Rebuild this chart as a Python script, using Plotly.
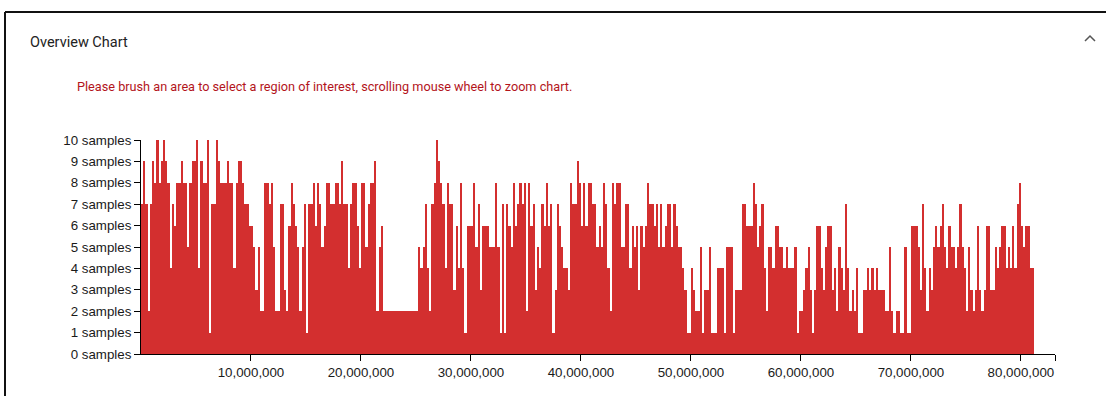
import plotly.graph_objects as go

# bin size 200,000 bp; values = sample counts per bin
BIN = 200_000
seg_00_10M = [7, 9, 7, 2, 7, 9, 8, 10, 8, 9, 10, 9, 8, 4, 7, 6, 8, 8, 9, 8,
              8, 5, 8, 9, 9, 10, 4, 9, 8, 8, 10, 1, 7, 7, 10, 9, 8, 8, 8, 9,
              8, 8, 4, 8, 9, 9, 8, 7, 7, 6]
seg_10_20M = [6, 5, 3, 5, 2, 2, 8, 8, 7, 8, 5, 2, 2, 7, 7, 3, 2, 6, 8, 7,
              6, 5, 2, 5, 7, 1, 7, 7, 8, 6, 8, 7, 5, 6, 8, 8, 7, 7, 8, 8,
              7, 9, 7, 7, 4, 7, 8, 8, 6, 4]
seg_20_30M = [8, 8, 5, 7, 8, 8, 9, 2, 5, 6, 2, 2, 2, 2, 2, 2, 2, 2, 2, 2,
              2, 2, 2, 2, 2, 2, 5, 4, 5, 7, 4, 2, 7, 8, 10, 9, 8, 7, 4, 8,
              7, 7, 3, 6, 4, 8, 4, 1, 6, 6]
seg_30_40M = [6, 8, 5, 7, 3, 6, 6, 6, 5, 5, 5, 8, 5, 1, 7, 1, 7, 6, 5, 8,
              6, 7, 8, 7, 8, 2, 8, 6, 7, 3, 5, 4, 7, 6, 8, 6, 7, 1, 3, 7,
              6, 5, 4, 4, 3, 8, 7, 7, 9, 8]
seg_40_50M = [6, 8, 6, 8, 8, 7, 7, 5, 6, 5, 8, 7, 4, 2, 8, 7, 8, 8, 5, 5,
              7, 7, 4, 6, 5, 6, 3, 6, 5, 6, 8, 7, 7, 6, 7, 5, 7, 5, 6, 7,
              7, 5, 7, 6, 5, 5, 4, 3, 1, 1]
seg_50_60M = [4, 3, 2, 2, 5, 1, 3, 3, 5, 1, 1, 1, 4, 4, 4, 1, 5, 5, 5, 1,
              3, 3, 3, 7, 7, 6, 6, 6, 8, 7, 5, 6, 7, 4, 2, 5, 5, 4, 6, 6,
              5, 5, 4, 5, 4, 4, 4, 5, 1, 2]
seg_60_70M = [2, 3, 4, 5, 3, 1, 3, 6, 6, 4, 3, 5, 6, 6, 3, 4, 2, 5, 4, 3,
              7, 4, 2, 3, 2, 4, 1, 1, 3, 3, 4, 3, 4, 3, 4, 3, 3, 3, 2, 2,
              5, 2, 1, 2, 2, 1, 1, 5, 1, 1]
seg_70_80M = [6, 6, 6, 5, 3, 7, 4, 2, 4, 3, 5, 6, 5, 6, 7, 5, 4, 6, 5, 5,
              4, 5, 7, 5, 4, 2, 5, 3, 2, 3, 6, 3, 2, 3, 6, 6, 3, 3, 5, 4,
              5, 6, 6, 4, 5, 4, 6, 4, 7, 8]
seg_80_end = [6, 5, 6, 6, 4, 4]

counts = (seg_00_10M + seg_10_20M + seg_20_30M + seg_30_40M + seg_40_50M
          + seg_50_60M + seg_60_70M + seg_70_80M + seg_80_end)
positions = [BIN * i + BIN / 2 for i in range(len(counts))]

x_ticks = [10_000_000 * k for k in range(1, 9)]
x_tick_text = [f"{v:,}" for v in x_ticks]
y_ticks = list(range(0, 11))
y_tick_text = [f"{v} samples" for v in y_ticks]
X_MAX = 83_100_000

title_text = "Overview Chart"
hint_text = "Please brush an area to select a region of interest, scrolling mouse wheel to zoom chart."

BAR_COLOR = "#d32f2f"

fig = go.Figure()
fig.add_trace(go.Bar(
    x=positions, y=counts, width=BIN,
    marker=dict(color=BAR_COLOR, line=dict(width=0)),
    hoverinfo="x+y",
))

# plot area in pixels
L, R, T, B = 141, 1055, 140, 354
W, H = 1106, 396


def px(xp):
    return (xp - L) / (R - L)


def py(yp):
    return (B - yp) / (B - T)


TICK_FONT = dict(family="Liberation Sans, Arial, sans-serif", size=13.3, color="#1a1a1a")

fig.update_layout(
    width=W, height=H,
    margin=dict(l=L, r=W - R, t=T, b=H - B, pad=0),
    paper_bgcolor="white", plot_bgcolor="white",
    bargap=0, showlegend=False,
    font=dict(family="Liberation Sans, Arial, sans-serif", size=13, color="#222"),
    xaxis=dict(
        range=[0, X_MAX], tickmode="array",
        tickvals=x_ticks + [X_MAX], ticktext=x_tick_text + [""],
        ticks="outside", ticklen=6, tickcolor="#000", tickwidth=1,
        showline=True, linecolor="#000", linewidth=1,
        showgrid=False, zeroline=False, fixedrange=True,
        tickfont=TICK_FONT,
    ),
    yaxis=dict(
        range=[0, 10], tickmode="array",
        tickvals=y_ticks, ticktext=y_tick_text,
        ticks="outside", ticklen=6, tickcolor="#000", tickwidth=1,
        showline=True, linecolor="#000", linewidth=1,
        showgrid=False, zeroline=False, fixedrange=True,
        tickfont=TICK_FONT,
    ),
    shapes=[
        # card border (top and left)
        dict(type="line", xref="paper", yref="paper",
             x0=px(5), x1=px(W + 2), y0=py(12), y1=py(12),
             line=dict(color="#111", width=2)),
        dict(type="line", xref="paper", yref="paper",
             x0=px(5), x1=px(5), y0=py(12), y1=py(H + 2),
             line=dict(color="#111", width=2)),
        # collapse chevron
        dict(type="path", xref="paper", yref="paper",
             path=f"M {px(1085)} {py(41)} L {px(1090)} {py(36)} L {px(1095)} {py(41)}",
             line=dict(color="#555", width=1.5)),
    ],
    annotations=[
        dict(text=title_text, xref="paper", yref="paper",
             x=px(28), y=py(42), xanchor="left", yanchor="middle",
             showarrow=False,
             font=dict(family="Roboto, Arial, sans-serif", size=14.5, color="#222")),
        dict(text=hint_text, xref="paper", yref="paper",
             x=px(75), y=py(87), xanchor="left", yanchor="middle",
             showarrow=False,
             font=dict(family="Roboto, Arial, sans-serif", size=12.7, color="#b3141b")),
    ],
)

fig.write_html("out.html", config={"displayModeBar": False},
               post_script="document.body.style.margin='0';document.body.style.overflow='hidden';")
